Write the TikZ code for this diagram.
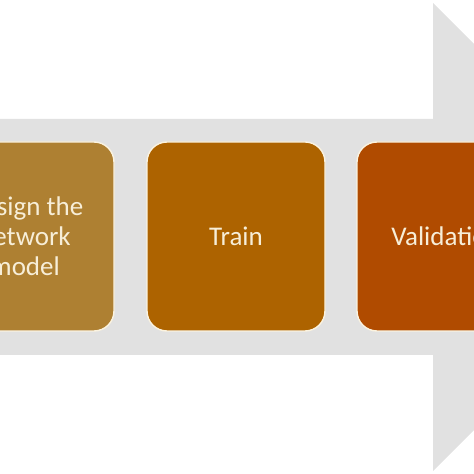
\documentclass[tikz,border=0pt]{standalone}
\usepackage{fontspec}
\setmainfont{Carlito}
\definecolor{bandgray}{HTML}{E1E1E1}
\definecolor{stepA}{HTML}{AE8032}
\definecolor{stepB}{HTML}{AD6300}
\definecolor{stepC}{HTML}{B04B00}
\definecolor{txtcream}{HTML}{F7EED8}
\definecolor{edgecream}{HTML}{FBF3E0}
\begin{document}
\begin{tikzpicture}[x=1pt,y=1pt,
  stepbox/.style={draw=edgecream, line width=1.4pt, rounded corners=20pt,
    minimum width=178pt, minimum height=189pt, inner sep=0pt,
    text=txtcream, align=center,
    font=\fontsize{27}{30}\selectfont}]
\useasboundingbox (0,0) rectangle (474,474);
\clip (0,0) rectangle (474,474);
% big gray arrow
\fill[bandgray] (-10,355) -- (433,355) -- (433,471) -- (667,237)
  -- (433,3) -- (433,119) -- (-10,119) -- cycle;
% steps
\node[stepbox, fill=stepA] (design) at (25,237.5) {Design the\\network\\model};
\node[stepbox, fill=stepB] (train) at (236,237.5) {Train};
\node[stepbox, fill=stepC] (valid) at (446,237.5) {Validation};
\end{tikzpicture}
\end{document}
